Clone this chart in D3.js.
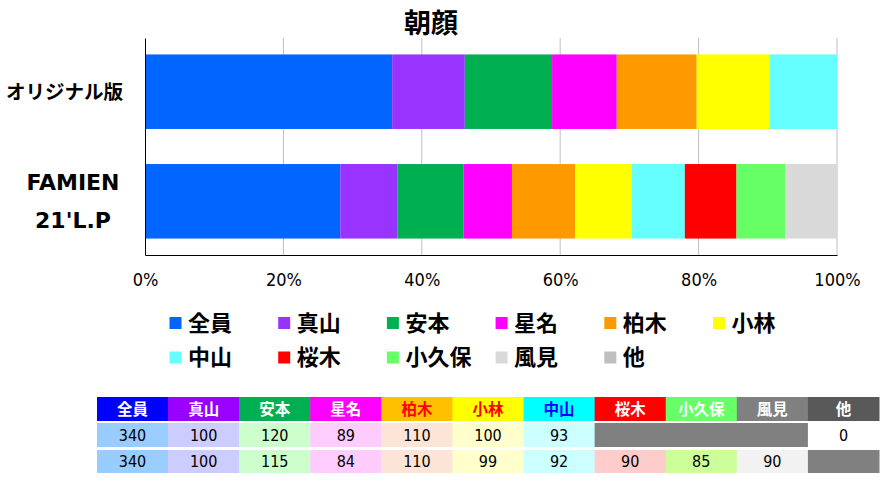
<!DOCTYPE html>
<html>
<head>
<meta charset="utf-8">
<script src="https://cdn.jsdelivr.net/npm/d3@7"></script>
<style>
  body { margin: 0; background: #fff; }
  svg { display: block; }
</style>
</head>
<body>
<script>
// data
const categories = ["オリジナル版", "FAMIEN\n21'L.P"];
const members = ["全員", "真山", "安本", "星名", "柏木", "小林", "中山", "桜木", "小久保", "風見", "他"];
const original = [340, 100, 120, 89, 110, 100, 93, null, null, null, 0];
const famien = [340, 100, 115, 84, 110, 99, 92, 90, 85, 90, null];
const xTicks = [0, 0.2, 0.4, 0.6, 0.8, 1];

const barColors = ["#0066ff", "#9933ff", "#00b050", "#ff00ff", "#ff9900", "#ffff00", "#66ffff", "#ff0000", "#66ff66", "#d9d9d9", "#bfbfbf"];
const headFill = ["#0000ff", "#9900ff", "#00b050", "#ff00ff", "#ffc000", "#ffff00", "#00ffff", "#ff0000", "#66ff66", "#808080", "#595959"];
const headText = ["#fff", "#fff", "#fff", "#fff", "#ff0000", "#ff0000", "#0000ff", "#fff", "#fff", "#fff", "#fff"];
const cellFill = ["#99ccff", "#ccccff", "#ccffcc", "#ffccff", "#fce4d6", "#ffffcc", "#ccffff"];

const W = 889, H = 481;
const svg = d3.select("body").append("svg").attr("width", W).attr("height", H);
const jp = "'Noto Sans CJK JP', 'DejaVu Sans', sans-serif";
const latinBold = "'DejaVu Sans', sans-serif";
const cond = "'DejaVu Sans Condensed', 'DejaVu Sans', sans-serif";

const pL = 145, pR = 837, pT = 38, pB = 255;

const rows = [original, famien].map((vals, i) => {
  const o = {cat: categories[i]};
  const tot = d3.sum(vals, v => v || 0);
  members.forEach((m, j) => o[m] = (vals[j] || 0) / tot);
  return o;
});

const x = d3.scaleLinear().domain([0, 1]).range([pL, pR]);
const y = d3.scaleBand().domain(categories).range([pT, pB])
  .paddingInner(0.32).paddingOuter(0.15);

// grid
svg.append("g").selectAll("line").data(xTicks.slice(1)).join("line")
  .attr("x1", d => x(d)).attr("x2", d => x(d))
  .attr("y1", pT).attr("y2", pB)
  .attr("stroke", "#bfbfbf").attr("stroke-width", 1);

const stack = d3.stack().keys(members)(rows);
svg.append("g").selectAll("g").data(stack).join("g")
  .attr("fill", (d, i) => barColors[i])
  .selectAll("rect").data(d => d).join("rect")
  .attr("x", d => x(d[0]))
  .attr("width", d => x(d[1]) - x(d[0]))
  .attr("y", d => y(d.data.cat))
  .attr("height", y.bandwidth());

// axes
const xAxis = svg.append("g").attr("transform", `translate(0,${pB})`)
  .call(d3.axisBottom(x).tickValues(xTicks).tickFormat(d3.format(".0%")).tickSize(0).tickPadding(18));
xAxis.select(".domain").attr("stroke", "#000");
xAxis.selectAll("text").attr("font-family", cond)
  .attr("font-size", 18).attr("fill", "#000");

const yAxis = svg.append("g").attr("transform", `translate(${pL},0)`)
  .call(d3.axisLeft(y).tickSize(0).tickFormat(""));
yAxis.select(".domain").attr("stroke", "#000");

// category labels
categories.forEach(c => {
  const lines = c.split("\n");
  const cy = y(c) + y.bandwidth() / 2;
  if (lines.length === 1) {
    svg.append("text").attr("font-family", jp).attr("font-weight", "bold")
      .attr("font-size", 19.5).attr("x", 123).attr("y", cy).attr("text-anchor", "end")
      .attr("dy", "0.35em").text(c);
  } else {
    const t = svg.append("text").attr("font-family", latinBold).attr("font-weight", "bold")
      .attr("font-size", 22).attr("text-anchor", "middle");
    lines.forEach((l, k) => t.append("tspan").attr("x", 73)
      .attr("y", cy + (k - 0.5) * 38.5).attr("dy", "0.36em").text(l));
  }
});

// title
svg.append("text").attr("x", 431).attr("y", 23).attr("dy", "0.36em")
  .attr("text-anchor", "middle").attr("font-family", jp).attr("font-weight", "bold")
  .attr("font-size", 27).text("朝顔");

// legend
const lg = svg.append("g").selectAll("g").data(members).join("g")
  .attr("transform", (d, i) => `translate(${175.5 + (i % 6) * 108.7},${323 + Math.floor(i / 6) * 34.5})`);
lg.append("rect").attr("x", -6).attr("y", -6).attr("width", 12).attr("height", 12)
  .attr("fill", (d, i) => barColors[i]);
lg.append("text").attr("x", 12.5).attr("dy", "0.36em").attr("font-family", jp)
  .attr("font-weight", "bold").attr("font-size", 22).text(d => d);

// table
const tx = d3.scaleBand().domain(members).range([97, 879]);
const tab = svg.append("g");
const rowY = [397, 423, 450], rowH = [24, 24, 23];

tab.selectAll("rect.h").data(members).join("rect")
  .attr("x", d => tx(d)).attr("y", rowY[0]).attr("width", tx.bandwidth() + 0.5).attr("height", rowH[0])
  .attr("fill", (d, i) => headFill[i]);
tab.selectAll("text.h").data(members).join("text")
  .attr("x", d => tx(d) + tx.bandwidth() / 2).attr("y", rowY[0] + rowH[0] / 2).attr("dy", "0.36em")
  .attr("text-anchor", "middle").attr("font-family", jp).attr("font-weight", "bold")
  .attr("font-size", 15.5).attr("fill", (d, i) => headText[i]).text(d => d);

const extraFill = [
  ["#808080", "#808080", "#808080", "#ffffff"],
  ["#ffcccc", "#ccff99", "#f2f2f2", "#808080"]
];
[original, famien].forEach((vals, r) => {
  const yy = rowY[r + 1], hh = rowH[r + 1];
  members.forEach((m, j) => {
    const fill = j < 7 ? cellFill[j] : extraFill[r][j - 7];
    tab.append("rect").attr("x", tx(m)).attr("y", yy)
      .attr("width", tx.bandwidth() + 0.5).attr("height", hh).attr("fill", fill);
    if (vals[j] !== null) {
      tab.append("text").attr("x", tx(m) + tx.bandwidth() / 2).attr("y", yy + hh / 2)
        .attr("dy", "0.36em").attr("text-anchor", "middle")
        .attr("font-family", cond).attr("font-size", 16)
        .attr("fill", "#000").text(vals[j]);
    }
  });
});
</script>
</body>
</html>
